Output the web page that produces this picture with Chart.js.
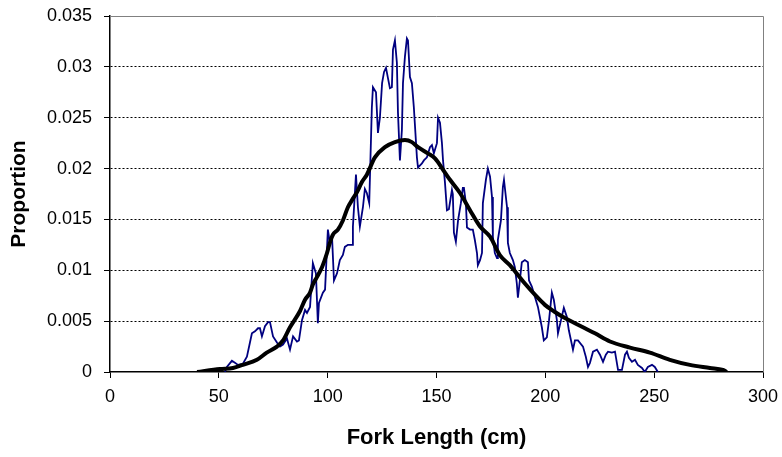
<!DOCTYPE html>
<html>
<head>
<meta charset="utf-8">
<script src="https://cdn.jsdelivr.net/npm/chart.js@4/dist/chart.umd.min.js"></script>
<style>
html,body{margin:0;padding:0;background:#fff;}
#wrap{width:782px;height:457px;position:relative;}
</style>
</head>
<body>
<div id="wrap"><canvas id="c" width="782" height="457"></canvas></div>
<script>
// Observed proportion (blue jagged line)
const observedX = [52.8,53.7,56,57.4,58.8,61,62.9,64.3,65.2,66.6,68,68.9,69.8,71.2,72.6,73.5,74.4,74.9,76.7,78.1,79.5,81.3,82.7,84.1,85.9,86.8,88.2,89.6,90.5,91.9,93.2,94.6,95.5,96,97.8,98.8,100.1,101,102,102.9,104.3,105.6,107,107.9,109.3,111.2,111.6,113,113.9,114.8,116.2,117.1,118,119.1,120.3,120.8,122.2,123.1,124,125,125.9,126.8,127.7,128.6,129.5,130,130.9,131.8,132.3,133.2,134.1,134.6,135.5,136.4,136.9,137.8,138.7,139.6,141,141.5,143.3,144.2,145.6,147,147.9,148.8,150.2,150.7,151.6,152.5,153,153.9,154.8,155.7,157.1,157.5,158,158.9,159.9,161.2,162.1,162.6,163.5,164,165.4,166.7,167.6,168.6,169,170,170.9,171.3,172.7,173.6,174.6,175.5,175.9,176.8,177.8,178.2,179.6,180.5,181,182.4,182.8,183.7,185.1,186,186.9,187.4,188.3,189.2,190.6,192,192.5,193.8,195.2,196.6,198.4,199.3,200.7,201.7,203,203.9,205.3,205.8,207.2,208.5,209.9,210.8,211.8,212.7,213.6,215,217.3,218.6,219.6,220.5,221.9,223.7,225.1,226.5,227.8,228.8,230.6,232,233.4,235.2,236.6,237.5,238.4,239.8,241.2,242.5,244.4,245.7,247.1,249,250.3,251.7];
const observedY = [0,0.0005,0.0011,0.0009,0.0007,0.0008,0.0015,0.0029,0.0038,0.004,0.0043,0.0043,0.0035,0.0045,0.0049,0.0049,0.004,0.0035,0.0029,0.0025,0.0027,0.0033,0.0022,0.0035,0.003,0.0031,0.0051,0.0061,0.0058,0.0064,0.0107,0.0097,0.0048,0.0068,0.0078,0.0081,0.014,0.0127,0.0133,0.009,0.0097,0.011,0.0115,0.0123,0.0125,0.0125,0.0143,0.0194,0.0162,0.0143,0.0162,0.018,0.0176,0.0166,0.026,0.028,0.0275,0.0235,0.025,0.0284,0.0295,0.0299,0.0289,0.0279,0.028,0.0317,0.0326,0.0304,0.0255,0.0208,0.0238,0.0284,0.031,0.0328,0.0326,0.029,0.0284,0.026,0.0211,0.0201,0.0205,0.0208,0.0211,0.0221,0.0223,0.0215,0.0225,0.025,0.0245,0.0225,0.0208,0.0186,0.0159,0.016,0.0179,0.0175,0.0137,0.0128,0.0149,0.0166,0.0181,0.0181,0.0166,0.0142,0.014,0.014,0.013,0.0117,0.0105,0.011,0.0117,0.0166,0.0189,0.02,0.0192,0.0172,0.0133,0.0117,0.0112,0.013,0.0149,0.0182,0.0189,0.0162,0.0127,0.0117,0.011,0.0103,0.0087,0.0073,0.009,0.0108,0.011,0.0108,0.009,0.0084,0.0074,0.0064,0.0044,0.0031,0.0034,0.0051,0.0078,0.0071,0.0051,0.0038,0.0051,0.0063,0.0054,0.0041,0.0031,0.0022,0.0031,0.0031,0.0025,0.0015,0.0005,0.0009,0.002,0.0022,0.0017,0.001,0.0017,0.002,0.0019,0.002,0.0002,0.0002,0.0017,0.002,0.0014,0.001,0.0012,0.0007,0.0004,0,0.0005,0.0007,0.0005,0];

// Predicted proportion (black smooth line)
const predictedX = [40,50.5,56.5,61,67.5,72,76.7,79.5,82.7,87.3,89.6,91.9,93.2,95,97.4,99.7,101,102.4,104.7,107,109.3,111.2,113.5,115.8,118,121.7,126.3,130.9,135.5,138.7,141.5,146,149.3,153.9,156.2,160.8,165.4,170,174.6,179.1,183.7,188.3,190.6,195.2,199.8,204.4,209,213.6,218.2,222.8,229.7,238.9,248,257.2,266.4,275.6,281.6,283.4];
const predictedY = [0,0.0003,0.0004,0.0007,0.0012,0.0019,0.0025,0.0031,0.0044,0.006,0.0071,0.0078,0.0086,0.0093,0.0103,0.0117,0.0127,0.0135,0.014,0.0149,0.0162,0.0169,0.0177,0.0187,0.0194,0.0211,0.0221,0.0226,0.0228,0.0226,0.0221,0.0215,0.021,0.0196,0.0189,0.0176,0.0159,0.0143,0.0133,0.0115,0.0105,0.0093,0.0087,0.0076,0.0066,0.0059,0.0053,0.0048,0.0043,0.0038,0.003,0.0024,0.0019,0.0012,0.0007,0.0004,0.0002,0];

const xTicks = [0,50,100,150,200,250,300];
const yTicks = [0,0.005,0.01,0.015,0.02,0.025,0.03,0.035];

const toPts = (xs, ys) => xs.map((x, i) => ({x: x, y: ys[i]}));

const frame = {
  id: 'frame',
  afterDraw(chart) {
    const a = chart.chartArea, ctx = chart.ctx;
    ctx.save();
    ctx.strokeStyle = '#808080';
    ctx.lineWidth = 1;
    ctx.beginPath();
    ctx.moveTo(a.left, a.top + 0.5);
    ctx.lineTo(a.right + 0.5, a.top + 0.5);
    ctx.lineTo(a.right + 0.5, a.bottom);
    ctx.stroke();
    ctx.restore();
  }
};

Chart.defaults.font.family = '"Liberation Sans", Arial, sans-serif';
Chart.defaults.color = '#000';

new Chart(document.getElementById('c'), {
  type: 'line',
  data: {
    datasets: [
      {
        label: 'Observed',
        data: toPts(observedX, observedY),
        borderColor: '#000080',
        borderWidth: 1.8,
        pointRadius: 0,
        tension: 0,
        order: 2
      },
      {
        label: 'Predicted',
        data: toPts(predictedX, predictedY),
        borderColor: '#000000',
        borderWidth: 4,
        pointRadius: 0,
        tension: 0.3,
        cubicInterpolationMode: 'monotone',
        order: 1
      }
    ]
  },
  plugins: [frame],
  options: {
    responsive: false,
    animation: false,
    events: [],
    layout: {padding: {left: 0, right: 19, top: 16, bottom: 0}},
    plugins: {legend: {display: false}, tooltip: {enabled: false}},
    scales: {
      x: {
        type: 'linear',
        min: 0, max: 300,
        afterFit(s) { s.height = 85; s.paddingLeft = 0; s.paddingRight = 0; },
        afterBuildTicks(s) { s.ticks = xTicks.map(v => ({value: v})); },
        ticks: {font: {size: 18}, padding: 8, color: '#000', maxRotation: 0},
        grid: {drawOnChartArea: false, drawTicks: true, tickLength: 6, tickColor: '#000', color: '#000'},
        border: {color: '#000', width: 1.5},
        title: {display: true, text: 'Fork Length (cm)', font: {size: 22, weight: 'bold'}, padding: {top: 0, bottom: 6}}
      },
      y: {
        type: 'linear',
        min: 0, max: 0.035,
        afterFit(s) { s.width = 110; s.paddingTop = 0; s.paddingBottom = 0; },
        afterBuildTicks(s) { s.ticks = yTicks.map(v => ({value: v})); },
        ticks: {font: {size: 18}, padding: 12, color: '#000', callback: v => String(+v.toFixed(3))},
        grid: {
          drawTicks: true, tickLength: 6, tickColor: '#000', tickBorderDash: [],
          lineWidth: 1,
          color: c => (c.tick && (c.tick.value === 0 || c.tick.value > 0.034)) ? 'rgba(0,0,0,0)' : '#000'
        },
        border: {color: '#000', width: 1.5, dash: [2, 2]},
        title: {display: true, text: 'Proportion', font: {size: 21, weight: 'bold'}, padding: {top: 7, bottom: 0}}
      }
    }
  }
});
</script>
</body>
</html>
